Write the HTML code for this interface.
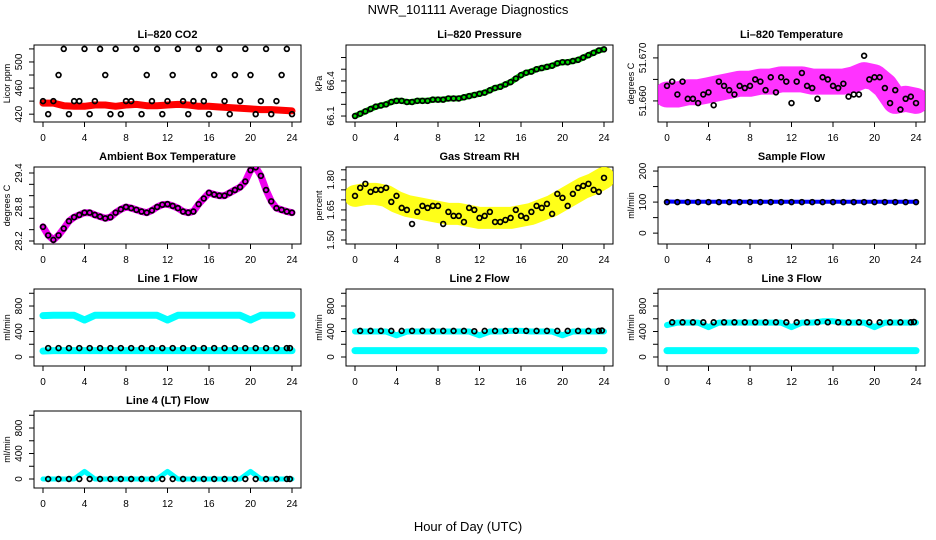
<!DOCTYPE html>
<html><head><meta charset="utf-8">
<style>
html,body{margin:0;padding:0;background:#fff;}
svg{display:block;font-family:"Liberation Sans",Arial,sans-serif;}
</style></head>
<body>
<svg id="chart" width="936" height="540" viewBox="0 0 936 540" xmlns="http://www.w3.org/2000/svg">
<rect x="0" y="0" width="936" height="540" fill="#fff"/>
<text x="468" y="14" text-anchor="middle" font-size="13">NWR_101111  Average Diagnostics</text>
<text x="468" y="531" text-anchor="middle" font-size="13">Hour of Day (UTC)</text>
</svg>
<script>
// ---- data ----
const halfHours = [0,0.5,1,1.5,2,2.5,3,3.5,4,4.5,5,5.5,6,6.5,7,7.5,8,8.5,9,9.5,10,10.5,11,11.5,12,12.5,13,13.5,14,14.5,15,15.5,16,16.5,17,17.5,18,18.5,19,19.5,20,20.5,21,21.5,22,22.5,23,23.5,24];
const hours = [0,1,2,3,4,5,6,7,8,9,10,11,12,13,14,15,16,17,18,19,20,21,22,23,24];
const xTicks = [0,4,8,12,16,20,24];

const co2Red = [437,437,433,432,432,434,434,432,434,435,433,433,434,435,434,432,432,431,430,429,428,427,427,426,425];
const co2Black = [440,420,440,480,520,420,440,440,520,420,440,520,480,420,520,420,440,440,520,420,480,440,520,420,440,480,520,440,420,440,520,440,420,480,520,440,420,480,440,520,480,420,440,520,420,440,480,520,420];

const pressure = [66.10,66.12,66.14,66.16,66.18,66.19,66.20,66.22,66.23,66.23,66.22,66.22,66.23,66.23,66.23,66.24,66.24,66.24,66.25,66.25,66.25,66.26,66.27,66.28,66.29,66.30,66.32,66.34,66.35,66.37,66.39,66.42,66.45,66.47,66.48,66.50,66.51,66.52,66.53,66.55,66.56,66.56,66.57,66.58,66.60,66.62,66.64,66.66,66.67];

const licorTempBand = [51.6615,51.6615,51.662,51.662,51.6625,51.663,51.6635,51.664,51.664,51.6645,51.6645,51.665,51.665,51.665,51.6645,51.6645,51.6645,51.6645,51.665,51.666,51.6655,51.6635,51.660,51.6605,51.660];
const licorTempBlack = [51.6635,51.6645,51.6615,51.6645,51.6605,51.6605,51.6595,51.6615,51.662,51.659,51.6645,51.6635,51.6625,51.6615,51.6635,51.663,51.6635,51.665,51.6645,51.6625,51.6655,51.662,51.6655,51.6645,51.6595,51.6645,51.6665,51.6635,51.663,51.6605,51.6655,51.665,51.6635,51.663,51.664,51.661,51.6615,51.6615,51.6705,51.665,51.6655,51.6655,51.663,51.6595,51.6625,51.658,51.6605,51.661,51.6595];

const ambient = [28.45,28.3,28.22,28.3,28.42,28.55,28.62,28.66,28.7,28.7,28.66,28.63,28.6,28.62,28.7,28.76,28.8,28.78,28.75,28.72,28.7,28.74,28.8,28.84,28.85,28.82,28.78,28.72,28.7,28.72,28.85,28.95,29.05,29.02,29.0,29.0,29.05,29.1,29.15,29.25,29.45,29.5,29.35,29.1,28.9,28.78,28.75,28.72,28.7];

const rhBand = [1.72,1.73,1.73,1.72,1.69,1.67,1.66,1.65,1.64,1.63,1.63,1.62,1.61,1.61,1.61,1.61,1.62,1.63,1.65,1.67,1.70,1.73,1.76,1.78,1.81];
const rhBlack = [1.72,1.76,1.78,1.74,1.75,1.75,1.76,1.69,1.72,1.66,1.65,1.58,1.64,1.67,1.66,1.67,1.67,1.58,1.64,1.62,1.62,1.59,1.66,1.65,1.61,1.62,1.64,1.59,1.59,1.60,1.61,1.65,1.62,1.61,1.64,1.67,1.66,1.68,1.63,1.73,1.71,1.67,1.73,1.76,1.77,1.78,1.75,1.74,1.81];

const sampleBlue = [102,101,101,101,101,101,101,101,101,101,101,101,101,101,101,101,101,101,101,101,101,101,101,101,101];
const sampleBlack = [100,100,100,100,100,100,100,100,100,100,100,100,100,100,100,100,100,100,100,100,100,100,100,100,100];

const line1CyanHi = [650,655,655,655,580,655,655,655,655,655,655,655,580,655,655,655,655,655,655,655,580,655,655,655,655];
const line1CyanLo = [95,100,100,100,100,100,100,100,100,100,100,100,100,100,100,100,100,100,100,100,100,100,100,100,100];
const line1Black = [140,140,140,140,140,140,140,140,140,140,140,140,140,140,140,140,140,140,140,140,140,140,140,140,140];

const line2CyanHi = [400,400,400,400,340,400,400,400,400,400,400,400,340,400,400,410,410,400,400,400,340,400,400,400,400];
const line2CyanLo = [100,100,100,100,100,100,100,100,100,100,100,100,100,100,100,100,100,100,100,100,100,100,100,100,100];
const line2Black = [410,410,410,410,410,410,410,410,410,410,410,405,410,410,410,410,410,410,410,410,410,410,410,410,415];

const line3CyanHi = [500,540,540,540,470,540,540,540,540,540,540,540,470,540,540,560,560,540,540,540,470,540,540,540,540];
const line3CyanLo = [100,100,100,100,100,100,100,100,100,100,100,100,100,100,100,100,100,100,100,100,100,100,100,100,100];
const line3Black = [545,545,545,545,545,545,545,545,545,545,545,545,545,545,545,545,545,545,545,545,545,545,545,545,550];

const line4Cyan = [0,0,0,0,120,0,0,0,0,0,0,0,120,0,0,0,0,0,0,0,120,0,0,0,0];
const line4Black = [0,0,0,0,0,0,0,0,0,0,0,0,0,0,0,0,0,0,0,0,0,0,0,0,0];

// ---- drawing ----
const NS = "http://www.w3.org/2000/svg";
const svg = document.getElementById('chart');
const BOX_W = 267, BOX_H = 77;
const colX = [34, 346, 658];
const rowY = [45, 167, 289, 411];

function mk(tag, attrs, parent) {
  const e = document.createElementNS(NS, tag);
  for (const k in attrs) e.setAttribute(k, attrs[k]);
  (parent || svg).appendChild(e);
  return e;
}

function panel(col, row, name, title, ylab, ymin, ymax, ticks, labels, labelFmt) {
  const L = colX[col], T = rowY[row];
  const g = mk('g', {});
  
  
  const xs = v => L + 9 + v * (249 / 24);
  const ys = v => T + BOX_H - (v - ymin) / (ymax - ymin) * BOX_H;
  const t = mk('text', {x: L + BOX_W / 2, y: T - 7, 'text-anchor': 'middle', 'font-size': 11, 'font-weight': 'bold'}, g);
  t.textContent = title;
  
  
  const box = mk('rect', {x: L, y: T, width: BOX_W, height: BOX_H, fill: 'none', stroke: '#000', 'stroke-width': 1}, g);
  
  
  // x axis
  const xa = mk('g', {}, g);
  
  
  const ay = T + BOX_H;
  xTicks.forEach(v => {
    mk('line', {x1: xs(v), x2: xs(v), y1: ay, y2: ay + 5, stroke: '#000'}, xa);
    const tl = mk('text', {x: xs(v), y: ay + 19, 'text-anchor': 'middle', 'font-size': 10}, xa);
    tl.textContent = v;
  });
  // y axis
  const ya = mk('g', {}, g);
  
  
  const ax = L;
  ticks.forEach(v => mk('line', {x1: ax - 5, x2: ax, y1: ys(v), y2: ys(v), stroke: '#000'}, ya));
  labels.forEach(v => {
    const y = ys(v);
    const tl = mk('text', {x: ax - 12, y: y, 'text-anchor': 'middle', 'font-size': 10, transform: `rotate(-90 ${ax - 12} ${y})`}, ya);
    tl.textContent = labelFmt ? labelFmt(v) : v;
  });
  const yl = mk('text', {x: L - 24, y: T + BOX_H / 2, 'text-anchor': 'middle', 'font-size': 9, transform: `rotate(-90 ${L - 24} ${T + BOX_H / 2})`}, g);
  yl.textContent = ylab;
  
  
  const clip = 'clip-' + name;
  const cp = mk('clipPath', {id: clip}, g);
  mk('rect', {x: L, y: T, width: BOX_W, height: BOX_H}, cp);
  const plot = mk('g', {'clip-path': `url(#${clip})`}, g);
  return {xs, ys, plot};
}

function band(p, xsArr, vals, color, w, name, op) {
  const d = vals.map((v, i) => (i ? 'L' : 'M') + p.xs(xsArr[i]).toFixed(1) + ' ' + p.ys(v).toFixed(1)).join(' ');
  const e = mk('path', {d, fill: 'none', stroke: color, 'stroke-width': w, 'stroke-linecap': 'round', 'stroke-linejoin': 'round', 'stroke-opacity': op || 1}, p.plot);
  
  
}
function dots(p, xsArr, vals, color, name) {
  const g = mk('g', {}, p.plot);
  
  
  vals.forEach((v, i) => {
    const c = mk('circle', {cx: p.xs(xsArr[i]), cy: p.ys(v), r: 2.4, fill: 'none', stroke: color, 'stroke-width': 1.7}, g);
    
    
  });
}

// Row 1
let p = panel(0, 0, 'co2', 'Li\u2013820 CO2', 'Licor ppm', 408, 526, [420,440,460,480,500,520], [420,460,500]);
band(p, hours, co2Red, '#ff0000', 7, 'co2-red-series');
dots(p, halfHours, co2Black, '#000', 'co2-black-series');

p = panel(1, 0, 'pressure', 'Li\u2013820 Pressure', 'kPa', 66.049, 66.707, [66.1,66.2,66.3,66.4,66.5,66.6], [66.1,66.4], v => v.toFixed(1));
band(p, halfHours, pressure, '#00dd00', 6, 'pressure-green-series');
dots(p, halfHours, pressure, '#000', 'pressure-black-series');

p = panel(2, 0, 'licor-temp', 'Li\u2013820 Temperature', 'degrees C', 51.6551, 51.673, [51.660,51.665,51.670], [51.660,51.670], v => v.toFixed(3));
band(p, hours, licorTempBand, '#ff00ff', 26, 'licor-temp-magenta-series', 0.8);
dots(p, halfHours, licorTempBlack, '#000', 'licor-temp-black-series');

// Row 2
p = panel(0, 1, 'ambient', 'Ambient Box Temperature', 'degrees C', 28.147, 29.506, [28.2,28.4,28.6,28.8,29.0,29.2,29.4], [28.2,28.8,29.4], v => v.toFixed(1));
band(p, halfHours, ambient, '#ee00ee', 7, 'ambient-magenta-series');
dots(p, halfHours, ambient, '#000', 'ambient-black-series');

p = panel(1, 1, 'rh', 'Gas Stream RH', 'percent', 1.480, 1.864, [1.50,1.55,1.60,1.65,1.70,1.75,1.80,1.85], [1.50,1.65,1.80], v => v.toFixed(2));
band(p, hours, rhBand, '#ffff00', 22, 'rh-yellow-series', 0.9);
dots(p, halfHours, rhBlack, '#000', 'rh-black-series');

p = panel(2, 1, 'sample-flow', 'Sample Flow', 'ml/min', -35, 213, [0,50,100,150,200], [0,100,200]);
band(p, hours, sampleBlue, '#0000ff', 4, 'sample-blue-series');
dots(p, hours, sampleBlack, '#000', 'sample-black-series');

// Row 3
const fT = [0,200,400,600,800,1000], fL = [0,400,800];
p = panel(0, 2, 'line1', 'Line 1 Flow', 'ml/min', -141, 1067, fT, fL);
band(p, hours, line1CyanHi, '#00ffff', 7, 'line1-cyan-high-series');
band(p, hours, line1CyanLo, '#00ffff', 7, 'line1-cyan-low-series');
dots(p, hours.map(h => Math.min(23.8, h + 0.5)), line1Black, '#000', 'line1-black-series');

p = panel(1, 2, 'line2', 'Line 2 Flow', 'ml/min', -141, 1067, fT, fL);
band(p, hours, line2CyanHi, '#00ffff', 6, 'line2-cyan-high-series');
band(p, hours, line2CyanLo, '#00ffff', 7, 'line2-cyan-low-series');
dots(p, hours.map(h => Math.min(23.8, h + 0.5)), line2Black, '#000', 'line2-black-series');

p = panel(2, 2, 'line3', 'Line 3 Flow', 'ml/min', -141, 1067, fT, fL);
band(p, hours, line3CyanHi, '#00ffff', 6, 'line3-cyan-high-series');
band(p, hours, line3CyanLo, '#00ffff', 7, 'line3-cyan-low-series');
dots(p, hours.map(h => Math.min(23.8, h + 0.5)), line3Black, '#000', 'line3-black-series');

// Row 4
p = panel(0, 3, 'line4', 'Line 4 (LT) Flow', 'ml/min', -141, 1067, fT, fL);
band(p, hours, line4Cyan, '#00ffff', 5, 'line4-cyan-series');
dots(p, hours.map(h => Math.min(23.8, h + 0.5)), line4Black, '#000', 'line4-black-series');
</script>
</body></html>
